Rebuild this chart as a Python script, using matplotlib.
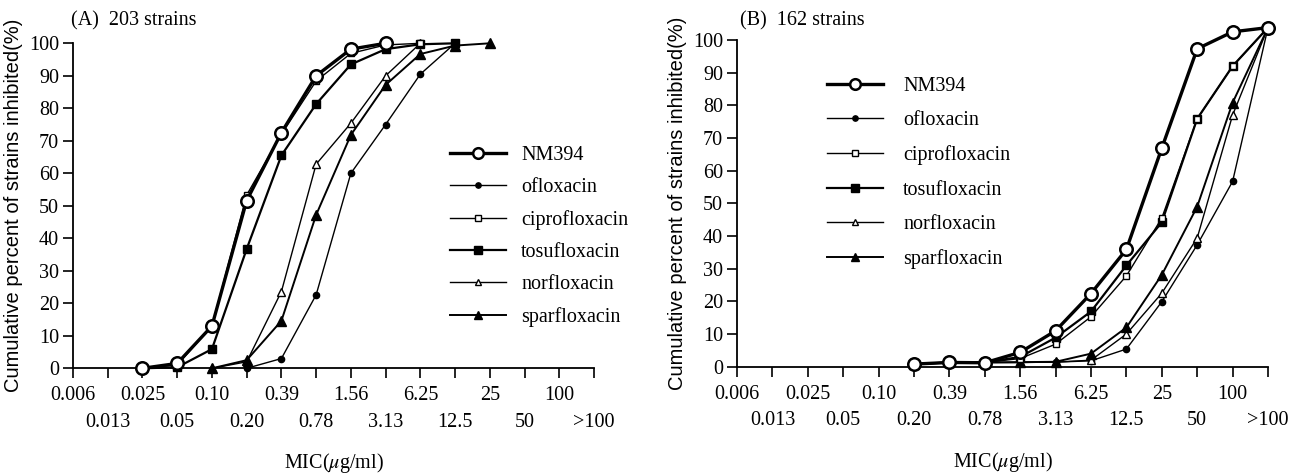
import matplotlib
matplotlib.use("Agg")
import matplotlib.pyplot as plt
from matplotlib.lines import Line2D

# ---------------- data ----------------
mic_labels = ["0.006", "0.013", "0.025", "0.05", "0.10", "0.20", "0.39", "0.78",
              "1.56", "3.13", "6.25", "12.5", "25", "50", "100", ">100"]

drugs = ["NM394", "ofloxacin", "ciprofloxacin", "tosufloxacin", "norfloxacin", "sparfloxacin"]

# Panel A (203 strains): (start index in mic_labels, cumulative %)
a_nm394_start = 2
a_nm394 = [0, 1.5, 13, 51.6, 72.5, 90, 98.2, 100]
a_oflox_start = 5
a_oflox = [0, 3, 22.6, 60, 75, 90.5, 100]
a_cipro_start = 2
a_cipro = [0, 1, 13, 53.3, 72, 88.4, 96.9, 99.5, 100]
a_tosu_start = 2
a_tosu = [0, 0.3, 5.9, 36.7, 65.5, 81.3, 93.5, 98.2, 99.7, 100]
a_norf_start = 4
a_norf = [0, 2, 23.6, 62.8, 75.4, 90, 100]
a_spar_start = 4
a_spar = [0, 2.5, 14.6, 47.2, 71.8, 87.2, 96.7, 99.3, 100]

# Panel B (162 strains)
b_nm394_start = 5
b_nm394 = [0.8, 1.3, 1.2, 4.4, 11, 22.4, 35.9, 66.9, 97.3, 102.5, 103.8]
b_oflox_start = 5
b_oflox = [0.8, 1.3, 1.3, 1.3, 1.4, 1.8, 5.4, 19.9, 37.3, 56.7, 103.8]
b_cipro_start = 5
b_cipro = [0.8, 1.3, 1.3, 2.5, 6.9, 15.3, 27.8, 45.5, 75.9, 92, 103.8]
b_tosu_start = 5
b_tosu = [0.8, 1.3, 1.3, 3.0, 8.9, 16.9, 31, 44.2, 75.9, 92, 103.8]
b_norf_start = 5
b_norf = [0.8, 1.3, 1.3, 1.3, 1.4, 2.0, 10, 22.5, 39.4, 77, 103.8]
b_spar_start = 5
b_spar = [0.8, 1.3, 1.3, 1.4, 1.5, 4.0, 12, 28.1, 49, 80.8, 103.8]

panel_a = {
    "NM394": (a_nm394_start, a_nm394),
    "ofloxacin": (a_oflox_start, a_oflox),
    "ciprofloxacin": (a_cipro_start, a_cipro),
    "tosufloxacin": (a_tosu_start, a_tosu),
    "norfloxacin": (a_norf_start, a_norf),
    "sparfloxacin": (a_spar_start, a_spar),
}
panel_b = {
    "NM394": (b_nm394_start, b_nm394),
    "ofloxacin": (b_oflox_start, b_oflox),
    "ciprofloxacin": (b_cipro_start, b_cipro),
    "tosufloxacin": (b_tosu_start, b_tosu),
    "norfloxacin": (b_norf_start, b_norf),
    "sparfloxacin": (b_spar_start, b_spar),
}

# ---------------- styles ----------------
styles = {
    "NM394": dict(lw=2.4, marker="o", ms=9, mfc="white", mew=1.8),
    "ofloxacin": dict(lw=1.0, marker="o", ms=4.5, mfc="black", mew=1.0),
    "ciprofloxacin": dict(lw=1.0, marker="s", ms=5, mfc="white", mew=1.0),
    "tosufloxacin": dict(lw=1.6, marker="s", ms=6, mfc="black", mew=1.0),
    "norfloxacin": dict(lw=1.0, marker="^", ms=5.5, mfc="white", mew=1.0),
    "sparfloxacin": dict(lw=1.4, marker="^", ms=6.5, mfc="black", mew=1.0),
}
zorders = {"NM394": 6, "ofloxacin": 3, "ciprofloxacin": 5, "tosufloxacin": 4,
           "norfloxacin": 3, "sparfloxacin": 4}

SERIF = ["Liberation Serif", "DejaVu Serif"]
SANS = ["Liberation Sans", "DejaVu Sans"]
plt.rcParams["mathtext.fontset"] = "stix"

fig = plt.figure(figsize=(13.02, 4.74), dpi=100)
W, H = 1302.0, 474.0


def make_axes(left_px, right_px, y0_px, y100_px, ytop):
    x0 = left_px / W
    w = (right_px - left_px) / W
    b = 1 - y0_px / H
    per = ((y0_px - y100_px) / H) / 100.0
    return fig.add_axes([x0, b, w, per * ytop])


def draw_panel(ax, data, ytop, leg_anchor, labelspacing, textpad):
    for name in drugs:
        start, vals = data[name]
        xs = list(range(start, start + len(vals)))
        st = styles[name]
        ax.plot(xs, vals, color="black", lw=st["lw"], marker=st["marker"],
                ms=st["ms"], mfc=st["mfc"], mec="black", mew=st["mew"],
                clip_on=False, zorder=zorders[name], label=name)
    ax.set_xlim(0, len(mic_labels) - 1)
    ax.set_ylim(0, ytop)
    for s in ["top", "right"]:
        ax.spines[s].set_visible(False)
    ax.spines["left"].set_bounds(0, 100)
    ax.spines["left"].set_linewidth(1.3)
    ax.spines["bottom"].set_linewidth(1.3)
    ax.set_yticks(range(0, 101, 10))
    ax.set_yticklabels([str(v) for v in range(0, 101, 10)], family=SERIF, fontsize=14.5)
    idx = list(range(len(mic_labels)))
    ax.set_xticks(idx[0::2])
    ax.set_xticklabels(mic_labels[0::2], family=SERIF, fontsize=14.5)
    ax.set_xticks(idx[1::2], minor=True)
    ax.set_xticklabels(mic_labels[1::2], minor=True, family=SERIF, fontsize=14.5)
    ax.tick_params(axis="both", which="both", direction="out", length=7, width=1.2)
    ax.tick_params(axis="x", which="major", pad=6)
    ax.tick_params(axis="x", which="minor", pad=25)
    ax.tick_params(axis="y", pad=3)
    ax.set_xlabel(r"MIC($\mu$g/ml)", family=SERIF, fontsize=14.5, labelpad=14)
    ax.set_ylabel("Cumulative percent of strains inhibited(%)",
                  family=SANS, fontsize=14.5, labelpad=4)
    ax.yaxis.label.set_y(0.5 * 100.0 / ytop)
    handles = []
    for name in drugs:
        st = styles[name]
        handles.append(Line2D([0], [0], color="black", lw=st["lw"], marker=st["marker"],
                              ms=st["ms"] * 0.85, mfc=st["mfc"], mec="black", mew=st["mew"]))
    ax.legend(handles, drugs, loc="upper left", bbox_to_anchor=leg_anchor,
              frameon=False, handlelength=2.8, handletextpad=textpad,
              labelspacing=labelspacing, borderpad=0, borderaxespad=0,
              prop={"family": SERIF, "size": 14.5}, numpoints=1)


axA = make_axes(73, 594, 368.3, 43.3, 100)
axB = make_axes(737, 1268, 366.7, 40.0, 106)

draw_panel(axA, panel_a, 100, (0.723, 0.685), 0.65, 0.75)
draw_panel(axB, panel_b, 106, (0.169, 0.838), 0.76, 1.0)

fig.text(71 / W, 1 - 25 / H, "(A)  203 strains", family=SERIF, fontsize=14.5)
fig.text(740 / W, 1 - 25 / H, "(B)  162 strains", family=SERIF, fontsize=14.5)

fig.savefig("out.png", dpi=100)
